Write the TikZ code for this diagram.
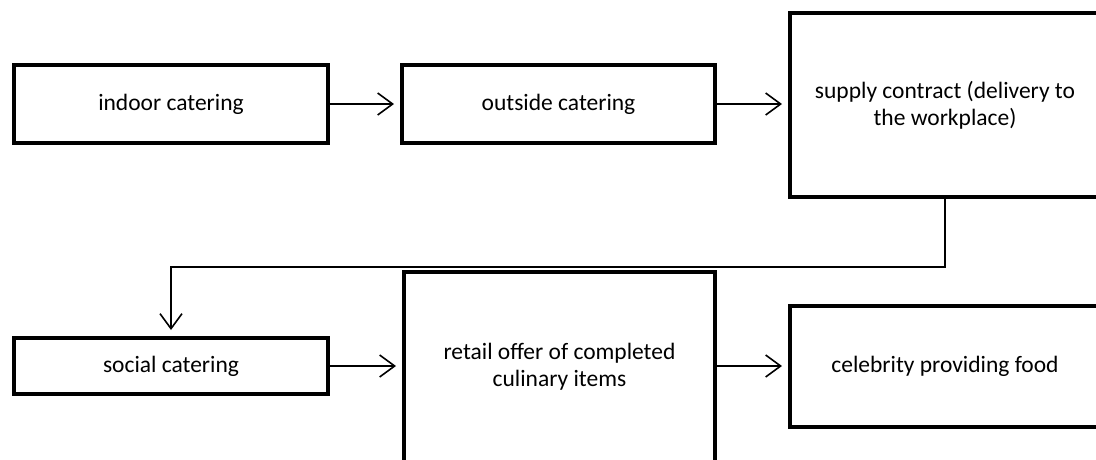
\documentclass[tikz,border=0pt]{standalone}
\usepackage{fontspec}
\setmainfont{Carlito}
\usetikzlibrary{arrows.meta}
\begin{document}
\begin{tikzpicture}[x=1pt,y=-1pt,
  box/.style={draw=black, line width=4pt, fill=white, rectangle, inner sep=0pt,
    align=center, font=\fontsize{23.5}{27}\selectfont},
  arr/.style={line width=1.6pt, -{Straight Barb[length=15pt,width=22pt,line width=1.6pt]}, shorten >=6pt}]
\useasboundingbox (0,0) rectangle (1096,459);
\clip (0,0) rectangle (1096,459);
\fill[white] (0,0) rectangle (1096,459);
\node[box, minimum width=314pt, minimum height=78pt] (indoor) at (171,104) {indoor catering};
\node[box, minimum width=313pt, minimum height=78pt] (outside) at (558.5,104) {outside catering};
\node[box, minimum width=310pt, minimum height=184pt] (supply) at (945,105) {supply contract (delivery to\\the workplace)};
\node[box, minimum width=314pt, minimum height=56pt] (social) at (171,366) {social catering};
\node[box, minimum width=311pt, minimum height=190pt] (retail) at (559.5,367) {retail offer of completed\\culinary items};
\node[box, minimum width=310pt, minimum height=121pt] (celeb) at (945,366) {celebrity providing food};
\draw[arr] (indoor) -- (outside);
\draw[arr] (outside) -- (supply.west |- outside.east);
\draw[arr] (supply.south) -- ++(0,68) -| (social.north);
\draw[arr] (social.east) -- (retail.west |- social.east);
\draw[arr] (retail.east |- celeb.west) -- (celeb.west);
\end{tikzpicture}
\end{document}
